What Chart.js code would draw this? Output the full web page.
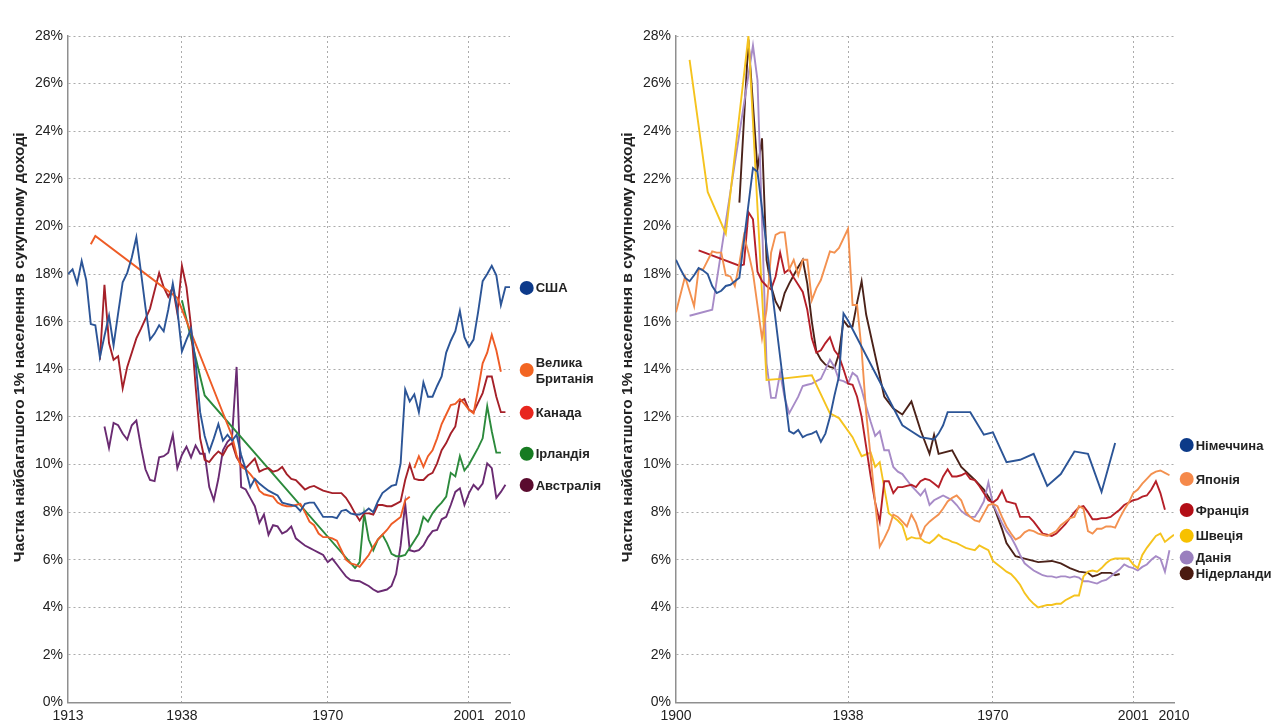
<!DOCTYPE html>
<html>
<head>
<meta charset="utf-8">
<script src="https://cdn.jsdelivr.net/npm/chart.js@4.4.0/dist/chart.umd.min.js"></script>
<style>
body { margin: 0; background: #fff; }
#wrap { position: relative; width: 1285px; height: 726px; overflow: hidden; }
canvas { position: absolute; top: 0; }
#left { left: 0; }
#right { left: 608px; }
</style>
</head>
<body>
<div id="wrap">
<canvas id="left" width="640" height="726"></canvas>
<canvas id="right" width="677" height="726"></canvas>
</div>
<script>
// year, share of top 1% (percent)
const usa = [[1913,18.0],[1914,18.2],[1915,17.6],[1916,18.55],[1917,17.75],[1918,15.9],[1919,15.85],[1920,14.5],[1921,15.4],[1922,16.25],[1923,15.0],[1924,16.35],[1925,17.65],[1926,18.05],[1927,18.7],[1928,19.55],[1929,18.1],[1930,16.6],[1931,15.25],[1932,15.5],[1933,15.85],[1934,15.6],[1935,16.5],[1936,17.6],[1937,16.5],[1938,14.75],[1939,15.25],[1940,15.7],[1941,14.3],[1942,12.2],[1943,11.2],[1944,10.55],[1945,11.1],[1946,11.7],[1947,11.0],[1948,11.25],[1949,11.0],[1950,11.25],[1951,10.4],[1952,9.8],[1953,9.05],[1954,9.4],[1955,9.2],[1956,9.05],[1957,8.9],[1958,8.8],[1959,8.7],[1960,8.4],[1961,8.35],[1962,8.3],[1963,8.25],[1964,8.05],[1965,8.35],[1966,8.4],[1967,8.4],[1968,8.1],[1969,7.8],[1970,7.8],[1971,7.8],[1972,7.75],[1973,8.05],[1974,8.1],[1975,7.95],[1976,7.9],[1977,7.9],[1978,8.0],[1979,8.15],[1980,8.0],[1981,8.45],[1982,8.8],[1983,8.95],[1984,9.1],[1985,9.15],[1986,10.05],[1987,13.15],[1988,12.65],[1989,12.95],[1990,12.2],[1991,13.45],[1992,12.85],[1993,12.85],[1994,13.3],[1995,13.7],[1996,14.7],[1997,15.2],[1998,15.6],[1999,16.45],[2000,15.35],[2001,14.95],[2002,15.25],[2003,16.4],[2004,17.7],[2005,18.0],[2006,18.35],[2007,17.95],[2008,16.7],[2009,17.45],[2010,17.45]];
const ukEarly = [[1918,19.25],[1919,19.6],[1937,17.0],[1949,11.2],[1950,10.4],[1951,9.9],[1952,9.8],[1953,9.6],[1954,9.35],[1955,8.9],[1956,8.75],[1957,8.7],[1958,8.65],[1959,8.4],[1960,8.3],[1961,8.25],[1962,8.25],[1963,8.3],[1964,8.35],[1965,8.0],[1966,7.6],[1967,7.45],[1968,7.1],[1969,6.95],[1970,6.95],[1971,6.9],[1972,6.8],[1973,6.4],[1974,6.0],[1975,5.85],[1976,5.8],[1977,5.7],[1978,5.95],[1979,6.2],[1980,6.55],[1981,6.85],[1982,7.05],[1983,7.25],[1984,7.5],[1985,7.65],[1986,7.8],[1987,8.5],[1988,8.65]];
const ukLate = [[1989,9.85],[1990,10.35],[1991,9.9],[1992,10.35],[1993,10.6],[1994,11.1],[1995,11.7],[1996,12.1],[1997,12.5],[1998,12.55],[1999,12.75],[2000,12.55],[2001,12.3],[2002,12.15],[2003,13.15],[2004,14.25],[2005,14.7],[2006,15.45],[2007,14.8],[2008,13.9]];
const canada = [[1920,14.4],[1921,17.55],[1922,15.1],[1923,14.4],[1924,14.55],[1925,13.2],[1926,14.1],[1928,15.3],[1929,15.7],[1931,16.55],[1933,18.05],[1934,17.45],[1935,17.05],[1936,17.45],[1937,16.35],[1938,18.35],[1939,17.45],[1940,15.8],[1941,13.3],[1942,11.1],[1943,10.2],[1944,10.1],[1945,10.35],[1946,10.55],[1947,10.4],[1948,10.75],[1949,10.9],[1950,10.3],[1951,10.0],[1952,9.85],[1953,10.05],[1954,10.25],[1955,9.7],[1956,9.8],[1957,9.85],[1958,9.7],[1959,9.75],[1960,9.9],[1961,9.6],[1962,9.4],[1963,9.35],[1964,9.15],[1965,8.95],[1966,9.05],[1967,9.1],[1968,9.0],[1969,8.9],[1970,8.85],[1971,8.8],[1972,8.8],[1973,8.8],[1974,8.6],[1975,8.3],[1976,7.95],[1977,7.65],[1978,7.95],[1979,7.95],[1980,7.9],[1981,8.3],[1982,8.3],[1983,8.25],[1984,8.25],[1985,8.35],[1986,8.45],[1987,9.35],[1988,10.0],[1989,9.4],[1990,9.35],[1991,9.35],[1992,9.55],[1993,9.65],[1994,10.05],[1995,10.6],[1996,10.9],[1997,11.3],[1998,11.6],[1999,12.65],[2000,12.75],[2001,12.3],[2002,12.2],[2003,12.6],[2004,13.0],[2005,13.7],[2006,13.7],[2007,12.85],[2008,12.2],[2009,12.2]];
const ireland = [[1938,16.9],[1943,12.9],[1976,5.65],[1977,5.9],[1978,7.95],[1979,6.85],[1980,6.4],[1981,6.85],[1982,7.05],[1983,6.7],[1984,6.25],[1985,6.15],[1986,6.15],[1987,6.2],[1988,6.5],[1989,6.8],[1990,7.1],[1991,7.8],[1992,7.6],[1993,7.95],[1994,8.2],[1995,8.4],[1996,8.65],[1997,9.65],[1998,9.5],[1999,10.35],[2000,9.75],[2001,10.0],[2002,10.35],[2003,10.7],[2004,11.1],[2005,12.45],[2006,11.4],[2007,10.5],[2008,10.5]];
const australia = [[1921,11.6],[1922,10.7],[1923,11.75],[1924,11.65],[1925,11.3],[1926,11.05],[1927,11.65],[1928,11.85],[1929,10.75],[1930,9.8],[1931,9.35],[1932,9.3],[1933,10.3],[1934,10.35],[1935,10.5],[1936,11.25],[1937,9.85],[1938,10.4],[1939,10.75],[1940,10.3],[1941,10.8],[1942,10.45],[1943,10.45],[1944,9.05],[1945,8.5],[1946,9.4],[1947,10.6],[1948,10.95],[1949,11.15],[1950,14.1],[1951,9.05],[1952,8.95],[1953,8.6],[1954,8.25],[1955,7.55],[1956,7.9],[1957,7.05],[1958,7.45],[1959,7.4],[1960,7.1],[1961,7.2],[1962,7.4],[1963,6.9],[1964,6.75],[1965,6.6],[1966,6.5],[1967,6.4],[1968,6.3],[1969,6.2],[1970,5.9],[1971,6.05],[1972,5.8],[1973,5.55],[1974,5.3],[1975,5.15],[1976,5.12],[1977,5.1],[1978,5.0],[1979,4.9],[1980,4.75],[1981,4.65],[1982,4.7],[1983,4.75],[1984,4.9],[1985,5.4],[1986,6.6],[1987,8.35],[1988,6.4],[1989,6.35],[1990,6.4],[1991,6.6],[1992,6.95],[1993,7.2],[1994,7.25],[1995,7.7],[1996,7.8],[1997,8.3],[1998,8.85],[1999,9.0],[2000,8.3],[2001,8.8],[2002,9.15],[2003,8.95],[2004,9.2],[2005,10.05],[2006,9.85],[2007,8.6],[2008,8.85],[2009,9.15]];

const germany = [[1900,18.6],[1901,18.2],[1902,17.85],[1903,17.7],[1904,17.95],[1905,18.25],[1906,18.15],[1907,18.0],[1908,17.5],[1909,17.2],[1910,17.3],[1911,17.5],[1912,17.55],[1913,17.7],[1914,17.85],[1917,22.45],[1918,22.3],[1925,11.4],[1926,11.3],[1927,11.45],[1928,11.15],[1929,11.25],[1930,11.3],[1931,11.4],[1932,10.95],[1933,11.3],[1934,12.0],[1935,12.9],[1936,13.7],[1937,16.35],[1938,16.05],[1950,11.65],[1952,11.4],[1954,11.15],[1957,11.05],[1958,11.3],[1959,11.65],[1960,12.2],[1965,12.2],[1968,11.25],[1970,11.35],[1973,10.1],[1976,10.2],[1979,10.45],[1982,9.1],[1985,9.6],[1988,10.55],[1991,10.45],[1994,8.85],[1997,10.9]];
const japan = [[1900,16.4],[1902,17.9],[1904,16.65],[1905,18.2],[1906,18.2],[1908,18.95],[1909,18.9],[1910,18.9],[1911,17.95],[1912,17.9],[1913,17.5],[1914,18.45],[1915,19.6],[1916,18.9],[1917,18.05],[1919,15.3],[1920,16.5],[1921,18.9],[1922,19.65],[1923,19.75],[1924,19.75],[1925,18.2],[1926,18.6],[1927,17.95],[1928,18.6],[1929,18.6],[1930,16.9],[1931,17.4],[1932,17.75],[1934,18.95],[1935,18.9],[1936,19.1],[1938,19.9],[1939,16.7],[1940,16.7],[1941,14.8],[1942,12.2],[1943,10.3],[1944,8.4],[1945,6.55],[1946,6.9],[1947,7.3],[1948,7.9],[1949,7.8],[1950,7.6],[1951,7.4],[1952,7.9],[1953,7.55],[1954,6.95],[1955,7.4],[1956,7.6],[1957,7.75],[1958,7.9],[1959,8.15],[1960,8.45],[1961,8.6],[1962,8.7],[1963,8.5],[1964,8.0],[1965,7.8],[1966,7.65],[1967,7.6],[1968,7.95],[1969,8.3],[1970,8.35],[1971,8.25],[1972,7.8],[1973,7.4],[1974,7.1],[1975,6.85],[1976,6.95],[1977,7.15],[1978,7.25],[1979,7.2],[1980,7.1],[1981,7.05],[1982,7.0],[1983,7.1],[1984,7.2],[1985,7.45],[1986,7.6],[1987,7.75],[1988,7.8],[1989,8.25],[1990,8.15],[1991,7.2],[1992,7.1],[1993,7.3],[1994,7.3],[1995,7.4],[1996,7.4],[1997,7.35],[1998,7.75],[1999,8.1],[2000,8.4],[2001,8.8],[2002,8.95],[2003,9.2],[2004,9.4],[2005,9.6],[2006,9.7],[2007,9.75],[2008,9.65],[2009,9.55]];
const france = [[1905,19.0],[1914,18.35],[1915,18.4],[1916,20.6],[1917,20.3],[1918,18.1],[1919,17.7],[1920,17.5],[1921,17.35],[1922,17.9],[1923,18.9],[1924,18.05],[1925,18.2],[1926,17.85],[1927,17.55],[1928,17.25],[1929,16.5],[1930,15.3],[1931,14.7],[1932,14.8],[1933,15.1],[1934,15.35],[1935,14.8],[1936,14.55],[1937,14.0],[1938,13.4],[1939,13.35],[1940,12.85],[1941,12.0],[1942,10.75],[1943,9.5],[1944,8.4],[1945,7.6],[1946,9.3],[1947,9.3],[1948,8.8],[1949,9.05],[1950,9.05],[1951,9.1],[1952,9.15],[1953,9.05],[1954,9.3],[1955,9.4],[1956,9.35],[1957,9.2],[1958,9.05],[1959,9.5],[1960,9.8],[1961,9.5],[1962,9.5],[1963,9.55],[1964,9.65],[1965,9.4],[1966,9.35],[1967,9.1],[1968,8.8],[1969,8.5],[1970,8.4],[1971,8.55],[1972,8.9],[1973,8.45],[1974,8.4],[1975,8.35],[1976,7.8],[1977,7.8],[1978,7.8],[1979,7.6],[1980,7.35],[1981,7.1],[1982,7.05],[1983,7.0],[1984,7.1],[1985,7.3],[1986,7.5],[1987,7.75],[1988,8.0],[1989,8.2],[1990,8.25],[1991,8.0],[1992,7.7],[1993,7.7],[1994,7.75],[1995,7.75],[1996,7.8],[1997,7.95],[1998,8.1],[1999,8.3],[2000,8.4],[2001,8.5],[2002,8.55],[2003,8.65],[2004,8.7],[2005,8.95],[2006,9.3],[2007,8.8],[2008,8.1]];
const sweden = [[1903,27.0],[1907,21.45],[1911,19.7],[1916,28.0],[1920,13.55],[1923,13.6],[1930,13.75],[1934,12.15],[1936,11.95],[1939,11.15],[1941,10.35],[1943,10.5],[1944,9.9],[1945,10.1],[1947,7.95],[1948,7.8],[1949,7.65],[1950,7.45],[1951,6.85],[1952,6.95],[1953,6.9],[1954,6.9],[1955,6.75],[1956,6.7],[1957,6.85],[1958,7.05],[1959,6.9],[1960,6.85],[1961,6.75],[1962,6.7],[1963,6.6],[1964,6.5],[1965,6.45],[1966,6.4],[1967,6.6],[1968,6.5],[1969,6.4],[1970,5.95],[1971,5.8],[1972,5.65],[1973,5.5],[1974,5.4],[1975,5.2],[1976,4.95],[1977,4.6],[1978,4.35],[1979,4.15],[1980,4.0],[1981,4.05],[1982,4.1],[1983,4.1],[1984,4.15],[1985,4.15],[1986,4.3],[1987,4.4],[1988,4.5],[1989,4.5],[1990,5.3],[1991,5.5],[1992,5.55],[1993,5.5],[1994,5.65],[1995,5.85],[1996,6.0],[1997,6.05],[1998,6.05],[1999,6.05],[2000,6.05],[2001,5.8],[2002,5.65],[2003,6.2],[2004,6.5],[2005,6.75],[2006,7.0],[2007,7.1],[2008,6.75],[2009,6.9],[2010,7.05]];
const denmark = [[1903,16.25],[1908,16.5],[1917,27.6],[1918,26.15],[1920,14.25],[1921,12.8],[1922,12.8],[1923,13.85],[1924,12.8],[1925,12.15],[1927,12.85],[1928,13.3],[1929,13.35],[1930,13.4],[1931,13.5],[1932,13.6],[1933,14.0],[1934,14.4],[1935,14.1],[1936,13.55],[1937,13.5],[1938,13.4],[1939,13.85],[1940,13.7],[1941,13.15],[1942,12.45],[1943,11.8],[1944,11.2],[1945,11.4],[1946,10.6],[1947,10.6],[1948,9.9],[1949,9.7],[1950,9.6],[1951,9.35],[1952,9.1],[1953,8.9],[1954,8.7],[1955,8.95],[1956,8.3],[1957,8.5],[1958,8.6],[1959,8.7],[1960,8.6],[1961,8.5],[1962,8.3],[1963,8.05],[1964,7.9],[1965,7.8],[1966,7.8],[1967,8.1],[1968,8.45],[1969,9.25],[1970,8.35],[1971,7.95],[1972,7.55],[1973,7.2],[1974,6.95],[1975,6.6],[1976,6.2],[1977,5.85],[1978,5.7],[1979,5.55],[1980,5.45],[1981,5.35],[1982,5.3],[1983,5.3],[1984,5.25],[1985,5.3],[1986,5.3],[1987,5.25],[1988,5.3],[1989,5.25],[1990,5.1],[1991,5.1],[1992,5.05],[1993,5.0],[1994,5.1],[1995,5.15],[1996,5.3],[1997,5.45],[1998,5.6],[1999,5.8],[2000,5.7],[2001,5.65],[2002,5.55],[2003,5.7],[2004,5.8],[2005,6.0],[2006,6.15],[2007,6.05],[2008,5.5],[2009,6.4]];
const netherlands = [[1914,21.0],[1916,27.85],[1918,22.4],[1919,23.7],[1920,18.6],[1921,17.5],[1922,16.85],[1923,16.5],[1924,17.2],[1925,17.6],[1926,17.95],[1927,18.3],[1928,18.6],[1929,17.6],[1930,16.0],[1931,14.75],[1932,14.4],[1933,14.2],[1934,14.1],[1935,14.05],[1936,14.65],[1937,16.05],[1938,15.8],[1939,15.8],[1940,16.8],[1941,17.7],[1942,16.3],[1946,12.85],[1948,12.35],[1950,12.1],[1952,12.65],[1954,11.45],[1956,10.45],[1957,11.25],[1958,10.45],[1961,10.6],[1963,9.9],[1966,9.35],[1968,8.95],[1970,8.35],[1972,7.3],[1973,6.7],[1975,6.15],[1977,6.05],[1980,5.9],[1983,5.95],[1985,5.85],[1987,5.65],[1989,5.5],[1991,5.45],[1992,5.3],[1993,5.35],[1994,5.45],[1996,5.45],[1997,5.35],[1998,5.4]];

const leftTicks = [1913, 1938, 1970, 2001, 2010];
const rightTicks = [1900, 1938, 1970, 2001, 2010];
const gridYears = [1938, 1970, 2001];
const yTitle = 'Частка найбагатшого 1% населення в сукупному доході';

const FONT = '"Liberation Sans", Arial, Helvetica, sans-serif';
const GRID = '#ababab';

const sideLegend = {
  id: 'sideLegend',
  afterDraw(chart, args, opts) {
    const ctx = chart.ctx, ys = chart.scales.y, area = chart.chartArea;
    ctx.save();
    ctx.font = 'bold 13px ' + FONT;
    ctx.textBaseline = 'middle';
    opts.items.forEach(it => {
      const y = ys.getPixelForValue(it.at);
      const x = area.right + opts.dx;
      ctx.fillStyle = it.color;
      ctx.beginPath();
      ctx.arc(x, y, 7, 0, Math.PI * 2);
      ctx.fill();
      ctx.fillStyle = '#222';
      const lines = it.label.split('\n');
      lines.forEach((t, i) => ctx.fillText(t, x + 9, y + 1 + (i - (lines.length - 1) / 2) * 16));
    });
    ctx.restore();
  }
};

const axisTitle = {
  id: 'axisTitle',
  afterDraw(chart, args, opts) {
    const ctx = chart.ctx, area = chart.chartArea;
    ctx.save();
    ctx.translate(opts.x, (area.top + area.bottom) / 2 + opts.dy);
    ctx.rotate(-Math.PI / 2);
    ctx.font = 'bold 15.5px ' + FONT;
    ctx.fillStyle = '#222';
    ctx.textAlign = 'center';
    ctx.textBaseline = 'middle';
    ctx.fillText(yTitle, 0, 0);
    ctx.restore();
  }
};

function line(label, data, color) {
  return { label, data, borderColor: color, backgroundColor: color, borderWidth: 1.9, pointRadius: 0, tension: 0, spanGaps: false };
}

function options(xMin, ticks, padRight, legendItems, dx) {
  return {
    responsive: false,
    animation: false,
    devicePixelRatio: 1,
    layout: { padding: { left: 0, right: padRight, top: 36, bottom: 0 } },
    plugins: {
      legend: { display: false },
      tooltip: { enabled: false },
      sideLegend: { items: legendItems, dx },
      axisTitle: { x: 20, dy: -22 }
    },
    scales: {
      x: {
        type: 'linear', min: xMin, max: 2010,
        afterBuildTicks: s => { s.ticks = ticks.map(v => ({ value: v })); },
        afterFit: s => { s.height = 23.4; },
        grid: { drawTicks: false, color: c => gridYears.includes(c.tick && c.tick.value) ? GRID : 'rgba(0,0,0,0)', lineWidth: 1 },
        border: { color: '#8f8f8f', width: 1.5, dash: [2, 3] },
        ticks: { autoSkip: false, maxRotation: 0, padding: 5, color: '#222', font: { family: FONT, size: 14 }, callback: v => String(v) }
      },
      y: {
        min: 0, max: 28,
        afterFit: s => { s.width = 68; },
        grid: { drawTicks: false, color: GRID, lineWidth: 1 },
        border: { color: '#8f8f8f', width: 1.5, dash: [2, 3] },
        ticks: { stepSize: 2, padding: 5, color: '#222', font: { family: FONT, size: 14 }, callback: v => v + '%' }
      }
    }
  };
}

new Chart(document.getElementById('left'), {
  type: 'line',
  data: {
    datasets: [
      line('США', usa, '#2c5597'),
      line('Велика Британія', ukEarly, '#ee5c26'),
      line('Велика Британія', ukLate, '#ee5c26'),
      line('Канада', canada, '#a52029'),
      line('Ірландія', ireland, '#2c8a3c'),
      line('Австралія', australia, '#6a2b72')
    ]
  },
  options: options(1913, leftTicks, 130, [
    { label: 'США', at: 17.42, color: '#0d3a8a' },
    { label: 'Велика\nБританія', at: 13.97, color: '#f26522' },
    { label: 'Канада', at: 12.17, color: '#e8261e' },
    { label: 'Ірландія', at: 10.45, color: '#177b22' },
    { label: 'Австралія', at: 9.14, color: '#5a0b2e' }
  ], 16.7),
  plugins: [sideLegend, axisTitle]
});

new Chart(document.getElementById('right'), {
  type: 'line',
  data: {
    datasets: [
      line('Німеччина', germany, '#2c5597'),
      line('Японія', japan, '#f39150'),
      line('Франція', france, '#b51f28'),
      line('Швеція', sweden, '#f5c31e'),
      line('Данія', denmark, '#a78bc7'),
      line('Нідерланди', netherlands, '#4b2219')
    ]
  },
  options: options(1900, rightTicks, 111, [
    { label: 'Німеччина', at: 10.82, color: '#0c3a88' },
    { label: 'Японія', at: 9.39, color: '#f5894a' },
    { label: 'Франція', at: 8.09, color: '#b30e16' },
    { label: 'Швеція', at: 7.01, color: '#f7c100' },
    { label: 'Данія', at: 6.09, color: '#9a7fbe' },
    { label: 'Нідерланди', at: 5.43, color: '#4a1a10' }
  ], 12.7),
  plugins: [sideLegend, axisTitle]
});
</script>
</body>
</html>
